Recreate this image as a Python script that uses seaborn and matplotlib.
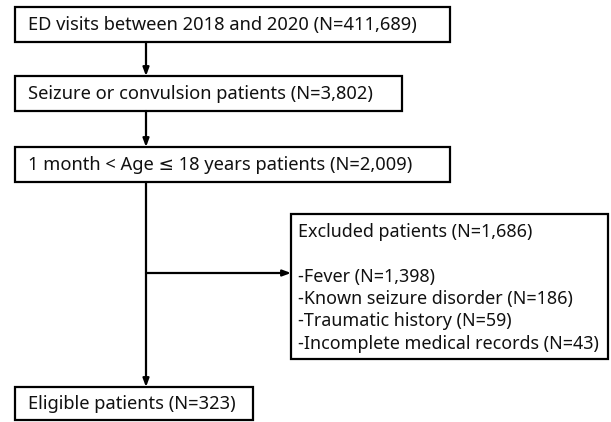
import matplotlib
matplotlib.use("Agg")
import matplotlib.pyplot as plt
import seaborn as sns
from matplotlib.patches import Rectangle

sns.set_theme(style="white")
plt.rcParams['font.family'] = ['Noto Sans', 'DejaVu Sans']

# Data
main_steps = [
    "ED visits between 2018 and 2020 (N=411,689)",
    "Seizure or convulsion patients (N=3,802)",
    "1 month < Age \u2264 18 years patients (N=2,009)",
    "Eligible patients (N=323)",
]
excluded_title = "Excluded patients (N=1,686)"
excluded_items = [
    "-Fever (N=1,398)",
    "-Known seizure disorder (N=186)",
    "-Traumatic history (N=59)",
    "-Incomplete medical records (N=43)",
]

# Layout (pixel space)
boxes = [  # x0, y0, x1, y1
    (15, 7, 450, 42),
    (15, 76, 402, 111),
    (15, 147, 450, 182),
    (15, 387, 253, 420),
]
ex_box = (291, 214, 608, 359)
line_x = 146
arrow_y = 273

fig = plt.figure(figsize=(6.11, 4.22), dpi=100)
ax = fig.add_axes([0, 0, 1, 1])
ax.set_xlim(0, 611)
ax.set_ylim(422, 0)
ax.axis("off")

lw = 1.6
fs = 13.2
fs_ex = 12.9

for (x0, y0, x1, y1), label in zip(boxes, main_steps):
    ax.add_patch(Rectangle((x0, y0), x1 - x0, y1 - y0, fill=False,
                           edgecolor="black", linewidth=lw))
    ax.text(x0 + 13, (y0 + y1) / 2 + 0.5, label, ha="left", va="center",
            fontsize=fs, color="#111111")

x0, y0, x1, y1 = ex_box
ax.add_patch(Rectangle((x0, y0), x1 - x0, y1 - y0, fill=False,
                       edgecolor="black", linewidth=lw))
ax.text(x0 + 7, 232, excluded_title, ha="left", va="center", fontsize=fs_ex,
        color="#111111")
for i, item in enumerate(excluded_items):
    ax.text(x0 + 7, 277 + i * 22.2, item, ha="left", va="center",
            fontsize=fs_ex, color="#111111")

arrow_kw = dict(arrowstyle="-|>,head_length=0.4,head_width=0.15",
                color="black", lw=lw, shrinkA=0, shrinkB=0)
# vertical arrows between main boxes
for (a, b) in [(0, 1), (1, 2), (2, 3)]:
    ax.annotate("", xy=(line_x, boxes[b][1]), xytext=(line_x, boxes[a][3]),
                arrowprops=arrow_kw)
# horizontal arrow to excluded box
ax.annotate("", xy=(ex_box[0], arrow_y), xytext=(line_x, arrow_y),
            arrowprops=arrow_kw)

fig.savefig("out.png", dpi=100, facecolor="white")
